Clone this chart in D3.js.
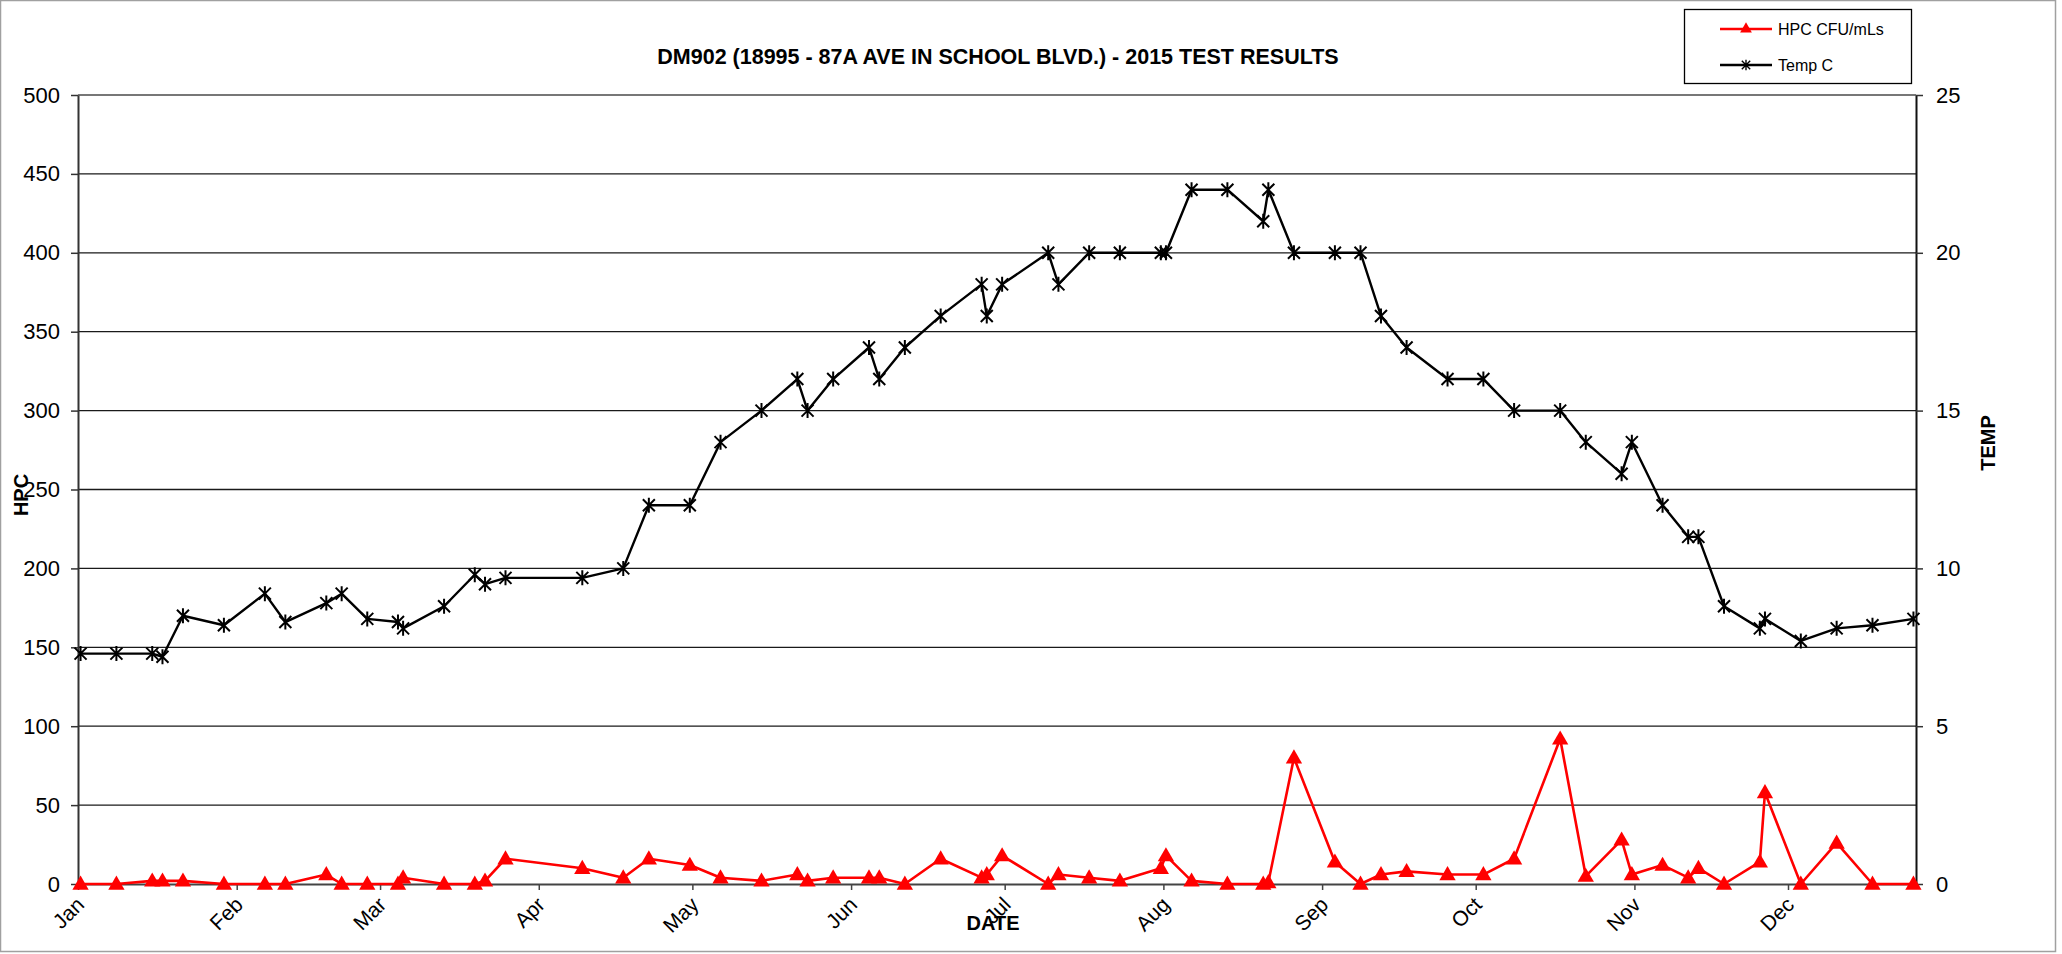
<!DOCTYPE html>
<html><head><meta charset="utf-8">
<script src="https://cdn.jsdelivr.net/npm/d3@7"></script>
<style>
body{margin:0;background:#fff}
svg{display:block}
text{font-family:"Liberation Sans",Arial,sans-serif;fill:#000}
</style></head>
<body><svg id="c" width="2062" height="954"></svg>
<script>
// ---- data ----
const sampleDates = ["2015-01-01","2015-01-08","2015-01-15","2015-01-17","2015-01-21","2015-01-29","2015-02-06","2015-02-10","2015-02-18","2015-02-21",
"2015-02-26","2015-03-04","2015-03-05","2015-03-13","2015-03-19","2015-03-21","2015-03-25","2015-04-09","2015-04-17","2015-04-22",
"2015-04-30","2015-05-06","2015-05-14","2015-05-21","2015-05-23","2015-05-28","2015-06-04","2015-06-06","2015-06-11","2015-06-18",
"2015-06-26","2015-06-27","2015-06-30","2015-07-09","2015-07-11","2015-07-17","2015-07-23","2015-07-31","2015-08-01","2015-08-06",
"2015-08-13","2015-08-20","2015-08-21","2015-08-26","2015-09-03","2015-09-08","2015-09-12","2015-09-17","2015-09-25","2015-10-02",
"2015-10-08","2015-10-17","2015-10-22","2015-10-29","2015-10-31","2015-11-06","2015-11-11","2015-11-13","2015-11-18","2015-11-25",
"2015-11-26","2015-12-03","2015-12-10","2015-12-17","2015-12-25"];
const hpcValues = [0,0,2,2,2,0,0,0,6,0,
0,0,4,0,0,2,16,10,4,16,
12,4,2,6,2,4,4,4,0,16,
4,6,18,0,6,4,2,10,18,2,
0,0,1,80,14,0,6,8,6,6,
16,92,5,28,6,12,4,10,0,14,
58,0,26,0,0];
const tempValues = [7.3,7.3,7.3,7.2,8.5,8.2,9.2,8.3,8.9,9.2,
8.4,8.3,8.1,8.8,9.8,9.5,9.7,9.7,10,12,
12,14,15,16,15,16,17,16,17,18,
19,18,19,20,19,20,20,20,20,22,
22,21,22,20,20,20,18,17,16,16,
15,15,14,13,14,12,11,11,8.8,8.1,
8.4,7.7,8.1,8.2,8.4];
const monthLabels = ["Jan","Feb","Mar","Apr","May","Jun","Jul","Aug","Sep","Oct","Nov","Dec"];
const hpcTicks = [0,50,100,150,200,250,300,350,400,450,500];
const tempTicks = [0,5,10,15,20,25];
const titleText = "DM902 (18995 - 87A AVE IN SCHOOL BLVD.) - 2015 TEST RESULTS";
const seriesNames = ["HPC CFU/mLs","Temp C"];

// ---- layout ----
const L = 78, R = 1916, T = 95, B = 884;
const svg = d3.select("#c");
svg.append("rect").attr("x",0.5).attr("y",0.5).attr("width",2055).attr("height",951)
  .attr("fill","#fff").attr("stroke","#a0a0a0").attr("stroke-width",1.5);

const parse = d3.utcParse("%Y-%m-%d");
const start = Date.UTC(2015,0,1), end = Date.UTC(2015,11,26);
const x = d3.scaleUtc().domain([new Date(start), new Date(end)]).range([L, R]);
const yL = d3.scaleLinear().domain([0,500]).range([B, T]);
const yR = d3.scaleLinear().domain([0,25]).range([B, T]);
const px = d => x(new Date(parse(d).getTime() + 12*3600*1000));

// gridlines
svg.append("g").selectAll("line").data(hpcTicks.filter(v=>v>0)).join("line")
  .attr("x1",L).attr("x2",R).attr("y1",d=>yL(d)).attr("y2",d=>yL(d))
  .attr("stroke",d=>d===500?"#777":"#1a1a1a").attr("stroke-width",d=>d===500?2:1.3);

// axes
const months = d3.utcMonth.range(new Date(start), new Date(end));
const xAxis = d3.axisBottom(x).tickValues(months).tickSize(6).tickSizeOuter(0)
  .tickFormat(d => monthLabels[d.getUTCMonth()]);
const gx = svg.append("g").attr("transform",`translate(0,${B})`).call(xAxis);
gx.select(".domain").attr("stroke","#444").attr("stroke-width",2.2);
gx.selectAll(".tick line").attr("stroke","#444").attr("stroke-width",1.5);
gx.selectAll(".tick text").attr("font-size",21).attr("font-family","Liberation Sans, Arial, sans-serif")
  .attr("text-anchor","end").attr("dy",0).attr("y",0)
  .attr("transform","translate(7,22) rotate(-45)");

const gl = svg.append("g").attr("transform",`translate(${L},0)`)
  .call(d3.axisLeft(yL).tickValues(hpcTicks).tickSize(7).tickSizeOuter(0).tickPadding(11));
gl.select(".domain").attr("stroke","#333").attr("stroke-width",2);
gl.selectAll(".tick line").attr("stroke","#333").attr("stroke-width",1.5);
gl.selectAll(".tick text").attr("font-size",22).attr("font-family","Liberation Sans, Arial, sans-serif");

const gr = svg.append("g").attr("transform",`translate(${R},0)`)
  .call(d3.axisRight(yR).tickValues(tempTicks).tickSize(7).tickSizeOuter(0).tickPadding(13));
gr.select(".domain").attr("stroke","#111").attr("stroke-width",2);
gr.selectAll(".tick line").attr("stroke","#333").attr("stroke-width",1.5);
gr.selectAll(".tick text").attr("font-size",22).attr("font-family","Liberation Sans, Arial, sans-serif");

// titles
svg.append("text").attr("x",998).attr("y",64).attr("text-anchor","middle")
  .attr("font-size",21.5).attr("font-weight","bold").text(titleText);
svg.append("text").attr("transform","translate(28,495) rotate(-90)").attr("text-anchor","middle")
  .attr("font-size",20).attr("font-weight","bold").text("HPC");
svg.append("text").attr("transform","translate(1995,443) rotate(-90)").attr("text-anchor","middle")
  .attr("font-size",20).attr("font-weight","bold").text("TEMP");
svg.append("text").attr("x",993).attr("y",930).attr("text-anchor","middle")
  .attr("font-size",20).attr("font-weight","bold").text("DATE");

// markers
const tri = d3.symbol().type(d3.symbolTriangle).size(115);
const starPath = "M-6,-6L6,6M-6,6L6,-6M0,-7.5L0,7.5";

// temp series
const tempData = sampleDates.map((d,i)=>({d, v: tempValues[i]}));
svg.append("path").datum(tempData)
  .attr("d", d3.line().x(p=>px(p.d)).y(p=>yR(p.v)))
  .attr("fill","none").attr("stroke","#000").attr("stroke-width",2.4).attr("stroke-linejoin","round");
svg.append("g").selectAll("path").data(tempData).join("path")
  .attr("transform",p=>`translate(${px(p.d)},${yR(p.v)})`)
  .attr("d",starPath).attr("stroke","#000").attr("stroke-width",2).attr("fill","none");

// hpc series
const hpcData = sampleDates.map((d,i)=>({d, v: hpcValues[i]}));
svg.append("path").datum(hpcData)
  .attr("d", d3.line().x(p=>px(p.d)).y(p=>yL(p.v)))
  .attr("fill","none").attr("stroke","#ff0000").attr("stroke-width",2.6).attr("stroke-linejoin","round");
svg.append("g").selectAll("path").data(hpcData).join("path")
  .attr("transform",p=>`translate(${px(p.d)},${yL(p.v)+1})`)
  .attr("d",tri).attr("fill","#ff0000");

// legend
const lg = svg.append("g");
lg.append("rect").attr("x",1684.5).attr("y",9.5).attr("width",227).attr("height",74)
  .attr("fill","#fff").attr("stroke","#000").attr("stroke-width",1.3);
const ly = [29, 65];
lg.append("line").attr("x1",1720).attr("x2",1772).attr("y1",ly[0]).attr("y2",ly[0]).attr("stroke","#ff0000").attr("stroke-width",2.5);
lg.append("path").attr("transform",`translate(1746,${ly[0]})`).attr("d",d3.symbol().type(d3.symbolTriangle).size(60)).attr("fill","#ff0000");
lg.append("line").attr("x1",1720).attr("x2",1772).attr("y1",ly[1]).attr("y2",ly[1]).attr("stroke","#000").attr("stroke-width",2.5);
lg.append("path").attr("transform",`translate(1746,${ly[1]}) scale(0.7)`).attr("d",starPath).attr("stroke","#000").attr("stroke-width",2).attr("fill","none");
lg.selectAll("text.lt").data(seriesNames).join("text").attr("class","lt")
  .attr("x",1778).attr("y",(d,i)=>ly[i]+5.5).attr("font-size",16).text(d=>d);
</script></body></html>
